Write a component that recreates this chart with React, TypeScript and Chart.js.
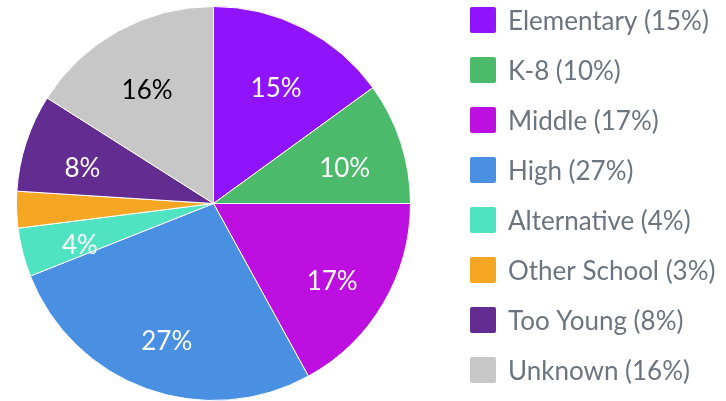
import React, { useEffect, useRef } from "react";
import { Chart, registerables } from "chart.js";

Chart.register(...registerables);

const categories = ["Elementary", "K-8", "Middle", "High", "Alternative", "Other School", "Too Young", "Unknown"];
const shares = [15, 10, 17, 27, 4, 3, 8, 16];
const colors = ["#9013FE", "#4CBA6B", "#BD10E0", "#4A90E2", "#50E3C2", "#F5A623", "#632C91", "#C7C7C7"];
const labelColors = ["#FFFFFF", "#FFFFFF", "#FFFFFF", "#FFFFFF", "#FFFFFF", "#FFFFFF", "#FFFFFF", "#000000"];
const minLabelShare = 4;

const FONT = "Lato, 'Noto Sans', sans-serif";

const pctPlugin = {
  id: "pctLabels",
  afterDatasetsDraw(chart: any) {
    const ctx = chart.ctx;
    const meta = chart.getDatasetMeta(0);
    ctx.save();
    ctx.font = `26px ${FONT}`;
    ctx.textAlign = "center";
    ctx.textBaseline = "middle";
    meta.data.forEach((arc: any, i: number) => {
      if (shares[i] < minLabelShare) return;
      const { x, y, startAngle, endAngle, outerRadius } = arc.getProps(["x", "y", "startAngle", "endAngle", "outerRadius"], true);
      const mid = (startAngle + endAngle) / 2;
      const r = outerRadius * 0.7;
      ctx.fillStyle = labelColors[i];
      ctx.fillText(`${shares[i]}%`, x + Math.cos(mid) * r, y + Math.sin(mid) * r + 8);
    });
    ctx.restore();
  },
};

const legendPlugin = {
  id: "sideLegend",
  afterDraw(chart: any) {
    const ctx = chart.ctx;
    ctx.save();
    ctx.font = `26px ${FONT}`;
    ctx.textAlign = "left";
    ctx.textBaseline = "middle";
    categories.forEach((c, i) => {
      const cy = 20 + i * 50;
      ctx.fillStyle = colors[i];
      ctx.beginPath();
      (ctx as any).roundRect(470, cy - 13, 26, 26, 2);
      ctx.fill();
      ctx.fillStyle = "#6B7580";
      ctx.fillText(`${c} (${shares[i]}%)`, 508, cy + 2);
    });
    ctx.restore();
  },
};

export default function App() {
  const ref = useRef<HTMLCanvasElement | null>(null);
  useEffect(() => {
    if (!ref.current) return;
    const chart = new Chart(ref.current, {
      type: "pie",
      data: {
        labels: categories,
        datasets: [
          {
            data: shares,
            backgroundColor: colors,
            borderColor: "#FFFFFF",
            borderWidth: 1,
          },
        ],
      },
      options: {
        animation: false,
        responsive: false,
        maintainAspectRatio: false,
        layout: { padding: { left: 16, right: 315, top: 6, bottom: 0 } },
        plugins: { legend: { display: false }, tooltip: { enabled: false } },
      },
      plugins: [pctPlugin, legendPlugin],
    });
    return () => chart.destroy();
  }, []);
  return (
    <div style={{ position: "absolute", left: 0, top: 0, width: 726, height: 401, background: "#fff" }}>
      <canvas ref={ref} width={726} height={401} style={{ width: 726, height: 401, display: "block" }} />
    </div>
  );
}
